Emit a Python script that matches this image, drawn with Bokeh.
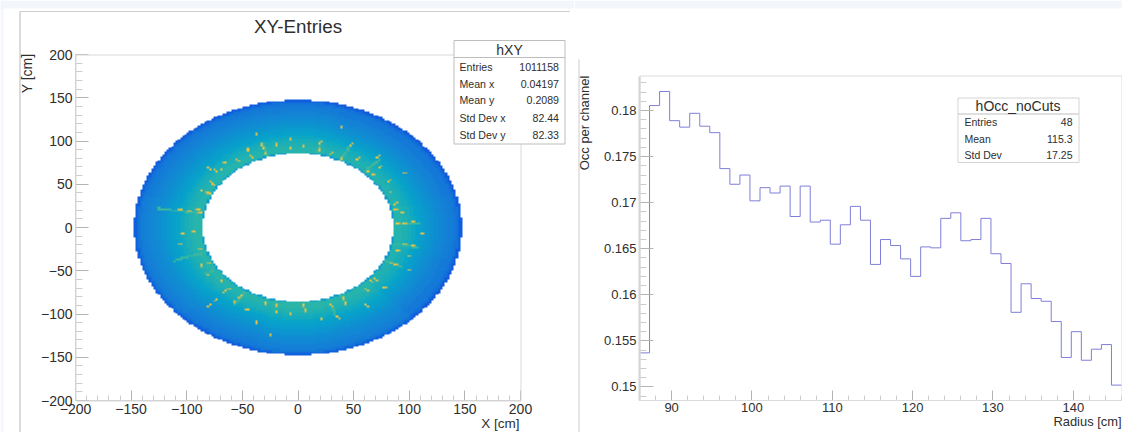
import numpy as np
from bokeh.embed import file_html
from bokeh.resources import INLINE
from bokeh.plotting import figure
from bokeh.layouts import row
from bokeh.models import (BoxAnnotation, ColumnDataSource, FixedTicker, Label,
                          LinearColorMapper, Range1d)

# ---------- right panel: occupancy per channel ----------
occ_values = [0.1537, 0.18054, 0.18207, 0.1789, 0.1782, 0.1797, 0.1783, 0.1776,
              0.1737, 0.1720, 0.1730, 0.1702, 0.17163, 0.17105, 0.1718, 0.1685,
              0.1718, 0.1679, 0.1681, 0.1655, 0.1676, 0.1696, 0.1681, 0.1633,
              0.1660, 0.16535, 0.1639, 0.1620, 0.1652, 0.1651, 0.1683, 0.1689,
              0.16587, 0.1660, 0.1683, 0.16446, 0.1634, 0.1581, 0.1612, 0.1596,
              0.1593, 0.1571, 0.1532, 0.1560, 0.1529, 0.1541, 0.1546, 0.1502]
occ_r_min, occ_r_max = 86.0, 146.0
occ_y_min, occ_y_max = 0.14853, 0.18375
occ_x_ticks = [90, 100, 110, 120, 130, 140]
occ_y_ticks = [0.15, 0.155, 0.16, 0.165, 0.17, 0.175, 0.18]
occ_y_labels = ["0.15", "0.155", "0.16", "0.165", "0.17", "0.175", "0.18"]
occ_stats = [("Entries", "48"), ("Mean", "115.3"), ("Std Dev", "17.25")]

# ---------- left panel: XY entries ----------
xy_ticks = [-200, -150, -100, -50, 0, 50, 100, 150, 200]
xy_labels = ["\u2212200", "\u2212150", "\u2212100", "\u221250", "0", "50", "100", "150", "200"]
xy_stats = [("Entries", "1011158"), ("Mean x", "0.04197"), ("Mean y", "0.2089"),
            ("Std Dev x", "82.44"), ("Std Dev y", "82.33")]

ring_edges = [85.5, 87, 90, 94, 98, 102, 106, 110, 114, 118, 122, 126, 130, 134, 138, 142, 145, 147.5]
ring_levels = [.33, .47, .47, .45, .43, .40, .37, .35, .33, .31, .29, .27, .26, .24, .23, .20, .13]
# estimated colour shift per 30-degree sector (0, 30, ... 330 deg)
sector_shift = [0, -.01, -.01, 0, 0, 0, .01, .01, 0, .015, .01, -.01]
# hot cells (cm)
spot_x = [-30.8, -32.3, -29.3, -41.2, -44.2, -19.4, -6.8, -6.8, -65.2, -72.7, -78.7, -68.2,
          -77.2, -75.7, -81.7, -86.2, -78.7, -89.2, -96.7, -105.7, -87.7, -36.8, -53.2,
          5.5, 18.1, 19.9, 39.1, 29.5, 39.1, 47.5, 53.5, 62.5, 67, 71.5, 72.9, 80.4, 82, 86.4,
          92.4, 95.4, 102.9, 87.9, 95.4, 89.4,
          -93.7, -102.7, -86.2, -104.2, -78.7, -86.2, -80.2, -68.2, -60.7, -65.2, -72.7, -51.7,
          -56.2, -78.7, -29.3, -18.8, -36.8, -6.8, -18.8, -45.7, -24.8,
          110.4, 95.4, 102.9, 89.4, 98.4, 83.4, 87.9, 99, 68.5, 65.5, 77.5, 61, 40, 43, 29.5, 7,
          4, 35.5, 61, 21.1]
spot_y = [91.4, 95.2, 85.6, 81.7, 89.4, 95.2, 101, 91.4, 74, 65, 67.4, 66.3,
          50.9, 48.2, 40.4, 43.1, 38.1, 20, 18.8, 21.2, 16.1, 106.8, 77.9,
          92.1, 88.3, 97.2, 79.8, 85.6, 115.3, 95.2, 79.8, 64.4, 60.5, 81.7, 69, 53.6, 40.4, 27.7,
          17.3, 5.7, 6.5, 20, 62.4, 4.6,
          -5.4, -6.6, -24.7, -19, -40.2, -44, -54.4, -61.4, -70.2, -73, -82.6, -78.7,
          -85.3, -89.2, -86.5, -88.4, -109.6, -100, -96.1, -94.2, -123,
          -6.6, -19, -20.9, -26.7, -33.2, -40.2, -42.1, -49, -59.5, -61.4, -68.3, -71, -81.4, -86.5,
          -88.4, -94.2, -89.2, -103, -89.2, -105.7]
# faint radial streaks: angle (deg), start and end radius (cm)
ray_angle = [170, 3, -12, -26, -71.5, -64, -122.5, -147, -161, 78.7, 108, 47, 63.5]
ray_start = [92, 90, 88, 88, 93, 88, 88, 90, 92, 89, 86, 90, 90]
ray_end = [128, 110, 110, 105, 110, 99, 106, 100, 118, 101, 103, 108, 108]

BIN = 2.0
centers = np.arange(-200 + BIN / 2, 200, BIN)
gx, gy = np.meshgrid(centers, centers)
gr = np.hypot(gx, gy)
gt = np.degrees(np.arctan2(gy, gx)) % 360
sector_ix = (((gt + 15) % 360) // 30).astype(int)
ring_ix = np.clip(np.searchsorted(ring_edges, gr, side="right") - 1, 0, len(ring_levels) - 1)
img = np.array(ring_levels)[ring_ix] + np.array(sector_shift)[sector_ix]
img[(gr < ring_edges[0]) | (gr > ring_edges[-1])] = np.nan


def mark(x, y, lev):
    i, j = int((y + 200) // BIN), int((x + 200) // BIN)
    if 0 <= i < 200 and 0 <= j < 200 and not np.isnan(img[i, j]):
        img[i, j] = max(img[i, j], lev)


for a, r0, r1 in zip(ray_angle, ray_start, ray_end):
    for r in np.arange(r0, r1, 1.0):
        mark(r * np.cos(np.radians(a)), r * np.sin(np.radians(a)), 0.52)
for sx, sy in zip(spot_x, spot_y):
    rad = np.hypot(sx, sy)
    mark(sx, sy, 0.86)
    mark(sx + BIN * sx / rad, sy + BIN * sy / rad, 0.74)

bird = [(53, 42, 135), (15, 92, 221), (20, 129, 214), (6, 164, 202), (46, 183, 164),
        (135, 191, 119), (209, 187, 89), (254, 200, 50), (249, 251, 14)]
palette = []
for t in np.linspace(0, 8, 256):
    k = min(int(t), 7)
    f = t - k
    c = [round(bird[k][n] * (1 - f) + bird[k + 1][n] * f) for n in range(3)]
    palette.append("#%02x%02x%02x" % tuple(c))

FONT = "Liberation Sans"
INK = "#2e2e2e"
GREY = "#cfcfcf"
PAGE = "#f3f7fb"


def rect(p, l, r, t, b, fill=None, line=None):
    p.add_layout(BoxAnnotation(left=l, right=r, top=t, bottom=b, left_units="canvas",
                               right_units="canvas", top_units="canvas", bottom_units="canvas",
                               fill_color=fill, fill_alpha=1 if fill else 0,
                               line_color=line, line_alpha=1 if line else 0,
                               line_width=1, level="annotation"))


def text(p, x, y, s, size, align="left", angle=0):
    p.add_layout(Label(x=x, y=y, x_units="canvas", y_units="canvas", text=s, angle=angle,
                       text_font=FONT, text_font_size=f"{size}px", text_color=INK,
                       text_align=align, text_baseline="middle", level="annotation"))


def style(p, xmaj, xmin, ymaj, ymin, xover, yover, xl, yl, xloc, yloc, xb, yb):
    ax, ay = p.xaxis[0], p.yaxis[0]
    ax.ticker = FixedTicker(ticks=xmaj, minor_ticks=xmin)
    ay.ticker = FixedTicker(ticks=ymaj, minor_ticks=ymin)
    ax.major_label_overrides = xover
    ay.major_label_overrides = yover
    ax.fixed_location, ay.fixed_location = xloc, yloc
    ax.bounds, ay.bounds = xb, yb
    ax.major_tick_in, ax.major_tick_out, ax.minor_tick_in, ax.minor_tick_out = xl, 0, xl // 2, 0
    ay.major_tick_in, ay.major_tick_out, ay.minor_tick_in, ay.minor_tick_out = yl, 0, 7, 0
    for a in (ax, ay):
        a.axis_line_color = GREY
        a.major_tick_line_color = "#b4b4b4"
        a.minor_tick_line_color = "#cccccc"
        a.major_label_text_font = FONT
        a.major_label_text_color = INK
    p.grid.visible = False
    p.background_fill_color = "white"
    p.border_fill_color = "white"
    p.outline_line_color = None


# ---------- left figure: the frame fills the canvas, the axes sit at fixed positions ----------
P1W, P1H = 574, 432
L1, R1, T1, B1 = 75.0, 520.0, 54.0, 400.0
sx1, sy1 = (R1 - L1) / 400, (B1 - T1) / 400
p1 = figure(width=P1W, height=P1H,
            x_range=Range1d(-200 - L1 / sx1, 200 + (P1W - R1) / sx1),
            y_range=Range1d(-200 - (P1H - B1) / sy1, 200 + T1 / sy1),
            output_backend="svg", toolbar_location=None,
            min_border_left=0, min_border_right=0, min_border_top=0, min_border_bottom=0)
mapper = LinearColorMapper(palette=palette, low=0, high=1, nan_color=(0, 0, 0, 0))
p1.image(image=[img], x=-200, y=-200, dw=400, dh=400, color_mapper=mapper)
minor50 = [v for v in range(-200, 201, 10) if v % 50]
style(p1, xy_ticks, minor50, xy_ticks, minor50,
      dict(zip(xy_ticks, xy_labels)), dict(zip(xy_ticks, xy_labels)), 10, 13,
      -200, -200, (-200, 200), (-200, 200))
p1.xaxis[0].major_label_text_font_size = "14px"
p1.yaxis[0].major_label_text_font_size = "14px"
p1.xaxis[0].major_label_standoff = 3
p1.yaxis[0].major_label_standoff = 3

rect(p1, 0, P1W, 0, 8, fill=PAGE)
rect(p1, 0, 3, 0, P1H, fill=PAGE)
rect(p1, 19.5, 569, 11, 11, line=GREY)
rect(p1, 19.5, 19.5, 11, P1H, line=GREY)
rect(p1, L1 + .5, R1 + .5, T1 + .5, B1 + .5, line="#d8d8d8")
text(p1, 297.5, 26, "XY-Entries", 18.8, "center")
text(p1, 519, 423, "X [cm]", 13.5, "right")
text(p1, 26, 73, "Y [cm]", 14, "center", np.pi / 2)
rect(p1, 453.5, 564.5, 40, 143.5, fill="white", line="#bdbdbd")
rect(p1, 453.5, 564.5, 57, 57, line="#bdbdbd")
text(p1, 509, 49, "hXY", 14, "center")
for (k, v), yy in zip(xy_stats, [66, 83.3, 99.5, 117.5, 134]):
    text(p1, 459, yy, k, 10.6)
    text(p1, 558.5, yy, v, 10.6, "right")

# ---------- right figure ----------
P2W, P2H = 548, 432
L2, R2, T2, B2 = 65.0, 547.0, 75.5, 400.0
sx2 = (R2 - L2) / (occ_r_max - occ_r_min)
sy2 = (B2 - T2) / (occ_y_max - occ_y_min)
p2 = figure(width=P2W, height=P2H,
            x_range=Range1d(occ_r_min - L2 / sx2, occ_r_max + (P2W - R2) / sx2),
            y_range=Range1d(occ_y_min - (P2H - B2) / sy2, occ_y_max + T2 / sy2),
            output_backend="svg", toolbar_location=None,
            min_border_left=0, min_border_right=0, min_border_top=0, min_border_bottom=0)
edges = np.linspace(occ_r_min, occ_r_max, len(occ_values) + 1)
src = ColumnDataSource(dict(x=edges, y=occ_values + occ_values[-1:]))
p2.step("x", "y", source=src, mode="after", line_color="#7f7fd8", line_width=1)
style(p2, occ_x_ticks, [v for v in range(86, 147, 2) if v % 10],
      occ_y_ticks, [v / 1000 for v in range(149, 184) if v % 5],
      {}, dict(zip(occ_y_ticks, occ_y_labels)), 10, 14,
      occ_y_min, occ_r_min, (occ_r_min, occ_r_max), (occ_y_min, occ_y_max))
p2.xaxis[0].major_label_text_font_size = "13px"
p2.yaxis[0].major_label_text_font_size = "13px"
p2.xaxis[0].major_label_standoff = 2
p2.yaxis[0].major_label_standoff = 3
p2.yaxis[0].axis_line_width = 2

rect(p2, 0, P2W, 0, 8, fill=PAGE)
rect(p2, L2 + .5, R2 + .5, T2, B2, line="#dcdcdc")
rect(p2, 4.5, 4.5, 59, P2H, line="#dddddd")
text(p2, 10, 122.5, "Occ per channel", 13, "center", np.pi / 2)
text(p2, 547, 421, "Radius [cm]", 12.9, "right")
rect(p2, 383.5, 504.5, 97.5, 162, fill="white", line="#d4d4d4")
rect(p2, 383.5, 504.5, 113.5, 113.5, line="#d4d4d4")
text(p2, 443.5, 105, "hOcc_noCuts", 14, "center")
for (k, v), yy in zip(occ_stats, [121.7, 138, 154.3]):
    text(p2, 390, yy, k, 10.5)
    text(p2, 498, yy, v, 10.5, "right")

layout = row(p1, p2, spacing=0)
open("out.html", "w").write(file_html(layout, INLINE))
